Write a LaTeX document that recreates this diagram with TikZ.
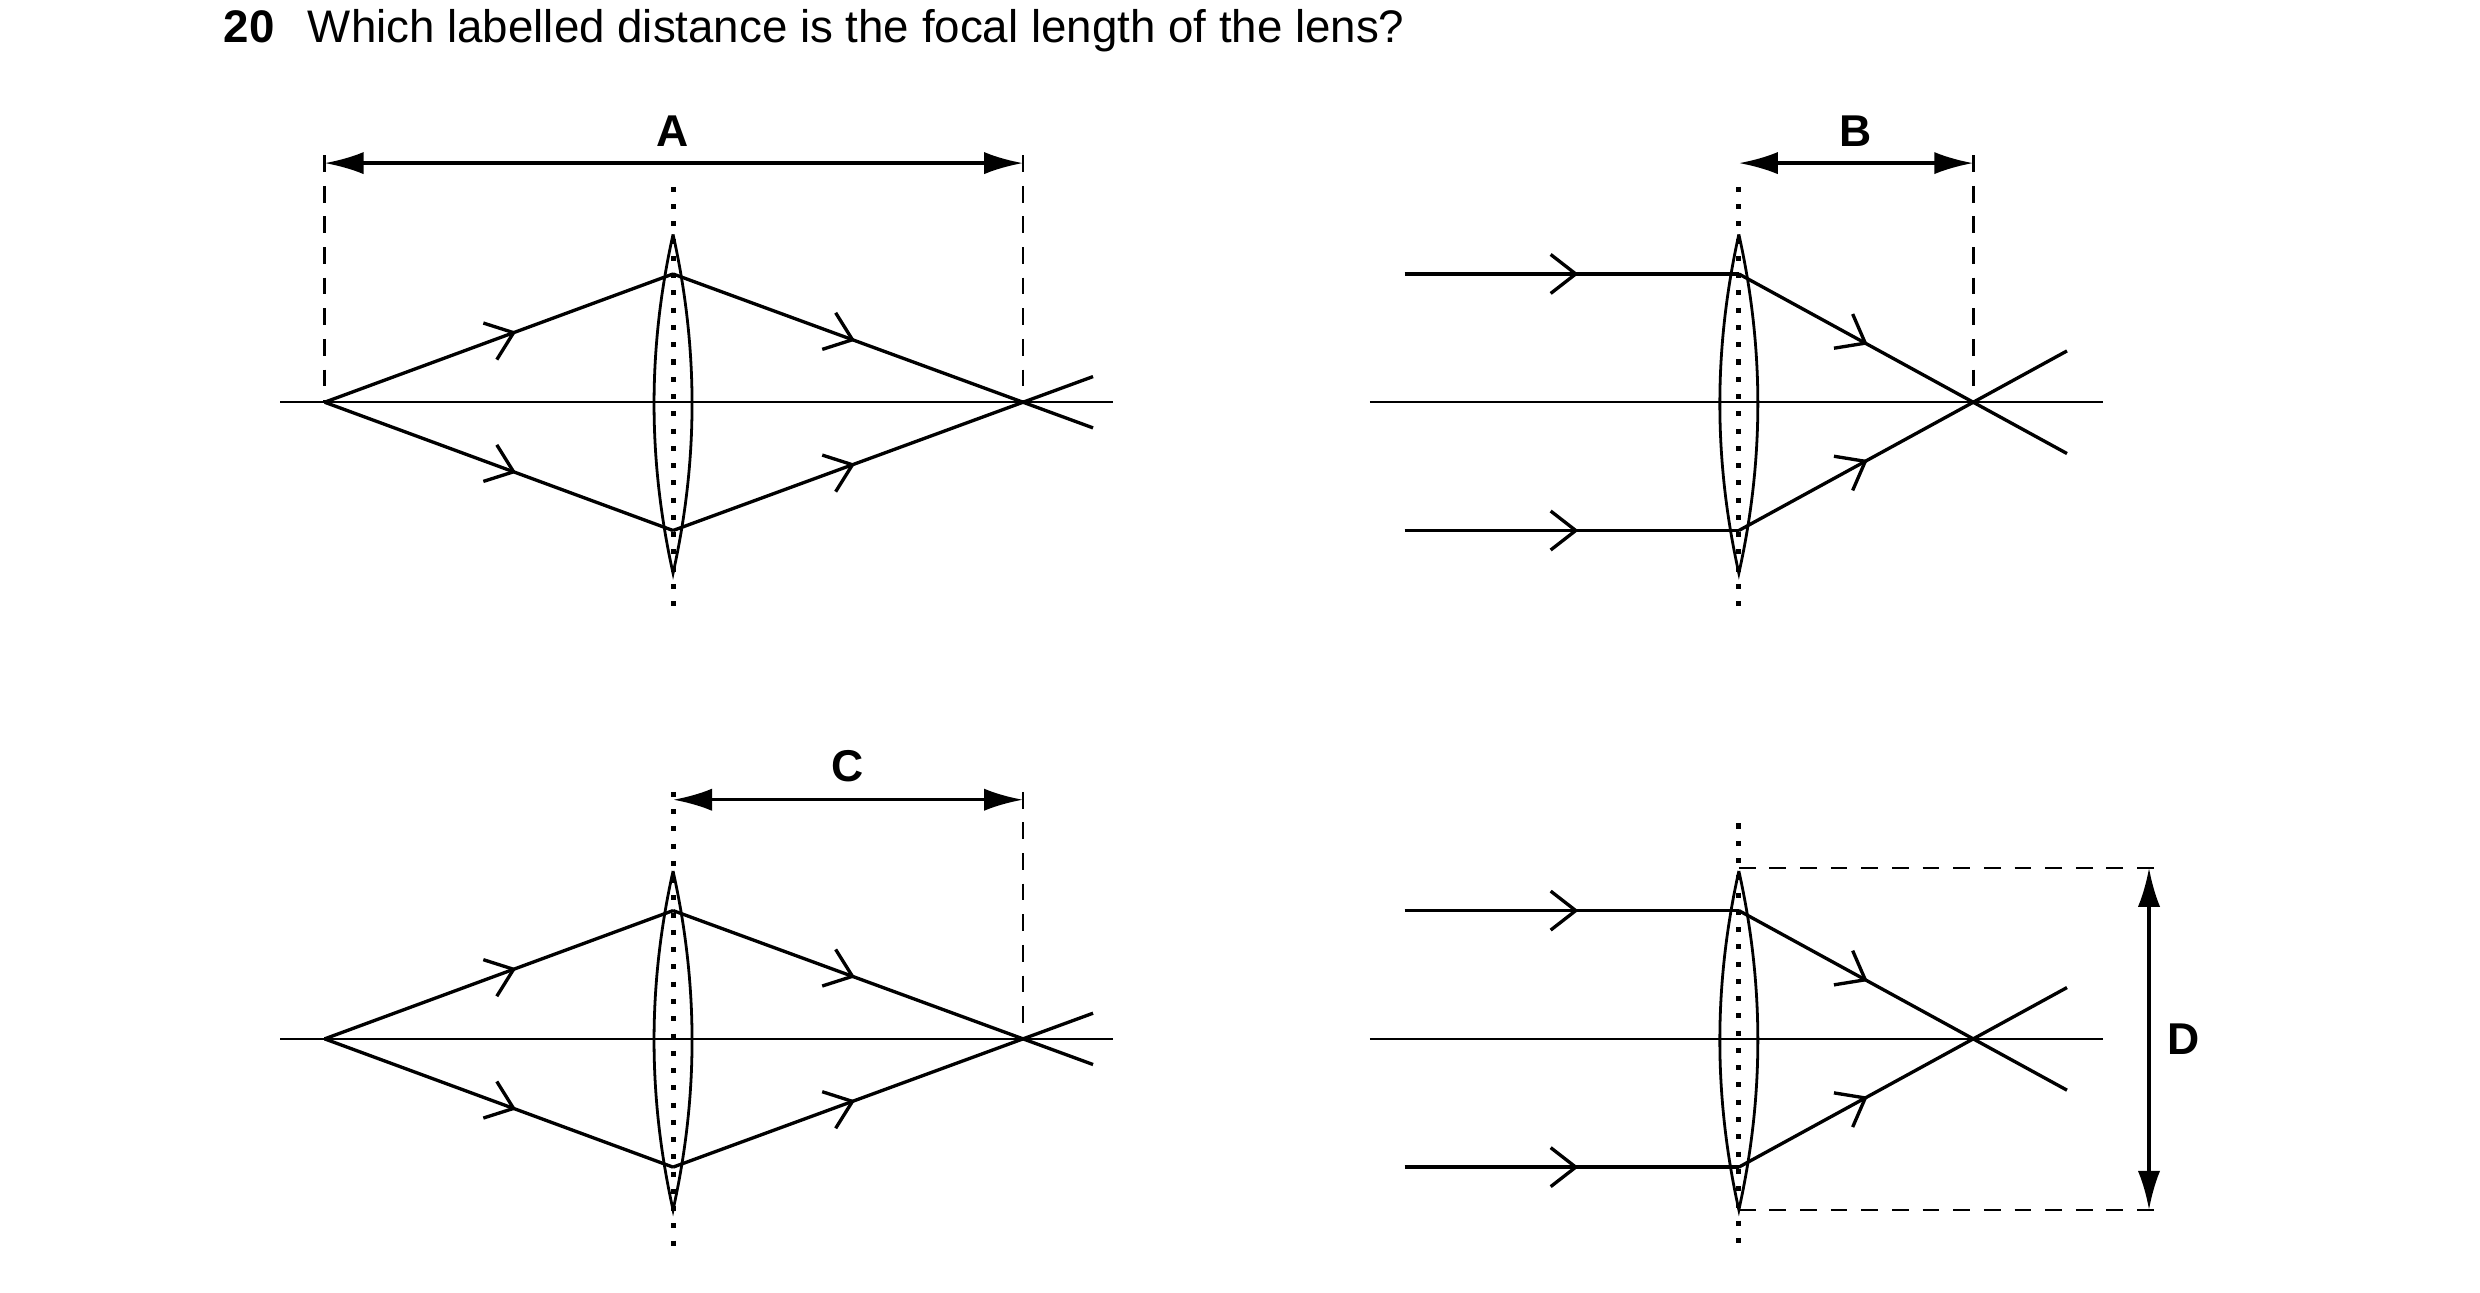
\documentclass[tikz,border=0pt]{standalone}
\usepackage{fontspec}
\setmainfont{Liberation Sans}
\usetikzlibrary{positioning,calc,arrows.meta,decorations.markings}
\tikzset{
	ray/.style={line width=0.6pt,line join=round},
	ray arrow/.style={ray,postaction={decorate},decoration={markings,mark=at position #1 with {\arrow{Straight Barb[length=4.5pt,width=7pt,line width=0.6pt]}}}},
	ray arrow/.default=0.55,
	axis/.style={line width=0.45pt},
	lens/.style={line width=0.5pt},
	centre/.style={line width=0.9pt,dash pattern=on 0.9pt off 2.2pt},
	guide/.style={line width=0.45pt,dash pattern=on 3pt off 2.5pt},
	dim/.style={line width=0.6pt,{Latex[length=7pt,width=4pt]}-{Latex[length=7pt,width=4pt]}},
	lbl/.style={font=\fontsize{8}{9}\selectfont\bfseries}
}
\begin{document}
\begin{tikzpicture}[x=0.01cm,y=-0.01cm]
			\useasboundingbox (0,0) rectangle (1566,816);
			\node[anchor=base west,font=\fontsize{8.2}{10}\selectfont\bfseries] (num) at (129,27) {20};
			\node[anchor=base west,font=\fontsize{8.2}{10}\selectfont] (question) at (182,27) {Which labelled distance is the focal length of the lens?};
			
			% top left: A
			\coordinate (objA) at (205,254);
			\coordinate (upA) at (425,173);
			\coordinate (loA) at (425,335);
			\coordinate (fA) at (646,254);
			\draw[axis] (177,254)--(703,254);
			\draw[lens] (425,148) .. controls (441,220) and (441,290) .. (425,362) .. controls (409,290) and (409,220) .. (425,148);
			\draw[centre] (425,118)--(425,390);
			\draw[ray arrow] (objA)--(upA);
			\draw[ray arrow] (objA)--(loA);
			\draw[ray arrow=0.52] (upA)--(fA);
			\draw[ray arrow=0.52] (loA)--(fA);
			\draw[ray] (fA)--($(upA)!1.2!(fA)$);
			\draw[ray] (fA)--($(loA)!1.2!(fA)$);
			\draw[guide] (205,98)--(objA);
			\draw[guide] (646,98)--(fA);
			\draw[dim] (205,103)--(646,103);
			\node[lbl] (A) at (425,83) {A};
			
			% top right: B
			\coordinate (upB) at (1098,173);
			\coordinate (loB) at (1098,335);
			\coordinate (fB) at (1246,254);
			\draw[axis] (865,254)--(1328,254);
			\draw[lens] (1098,148) .. controls (1114,220) and (1114,290) .. (1098,362) .. controls (1082,290) and (1082,220) .. (1098,148);
			\draw[centre] (1098,118)--(1098,390);
			\draw[ray arrow=0.52] (887,173)--(upB);
			\draw[ray arrow=0.52] (887,335)--(loB);
			\draw[ray arrow] (upB)--(fB);
			\draw[ray arrow] (loB)--(fB);
			\draw[ray] (fB)--($(upB)!1.4!(fB)$);
			\draw[ray] (fB)--($(loB)!1.4!(fB)$);
			\draw[guide] (1246,98)--(fB);
			\draw[dim] (1098,103)--(1246,103);
			\node[lbl] (B) at (1172,83) {B};
			
			% bottom left: C
			\coordinate (objC) at (205,656);
			\coordinate (upC) at (425,575);
			\coordinate (loC) at (425,737);
			\coordinate (fC) at (646,656);
			\draw[axis] (177,656)--(703,656);
			\draw[lens] (425,550) .. controls (441,622) and (441,692) .. (425,764) .. controls (409,692) and (409,622) .. (425,550);
			\draw[centre] (425,500)--(425,792);
			\draw[ray arrow] (objC)--(upC);
			\draw[ray arrow] (objC)--(loC);
			\draw[ray arrow=0.52] (upC)--(fC);
			\draw[ray arrow=0.52] (loC)--(fC);
			\draw[ray] (fC)--($(upC)!1.2!(fC)$);
			\draw[ray] (fC)--($(loC)!1.2!(fC)$);
			\draw[guide] (646,500)--(fC);
			\draw[dim] (425,505)--(646,505);
			\node[lbl] (C) at (535,484) {C};
			
			% bottom right: D
			\coordinate (upD) at (1098,575);
			\coordinate (loD) at (1098,737);
			\coordinate (fD) at (1246,656);
			\coordinate (dtop) at (1357,548);
			\coordinate (dbot) at (1357,764);
			\draw[axis] (865,656)--(1328,656);
			\draw[lens] (1098,550) .. controls (1114,622) and (1114,692) .. (1098,764) .. controls (1082,692) and (1082,622) .. (1098,550);
			\draw[centre] (1098,520)--(1098,792);
			\draw[ray arrow=0.52] (887,575)--(upD);
			\draw[ray arrow=0.52] (887,737)--(loD);
			\draw[ray arrow] (upD)--(fD);
			\draw[ray arrow] (loD)--(fD);
			\draw[ray] (fD)--($(upD)!1.4!(fD)$);
			\draw[ray] (fD)--($(loD)!1.4!(fD)$);
			\draw[guide] (1098,548)--(1362,548);
			\draw[guide] (1098,764)--(1362,764);
			\draw[dim] (dtop)--(dbot);
			\node[lbl] (D) at (1379,656) {D};
		\end{tikzpicture}
\end{document}
